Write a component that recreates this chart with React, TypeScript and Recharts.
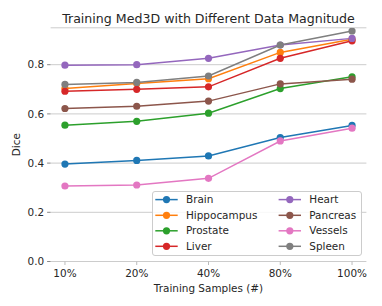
import React from 'react';
import { LineChart, Line, XAxis, YAxis, CartesianGrid, Legend } from 'recharts';

const xLabels = ['10%', '20%', '40%', '80%', '100%'];
const seriesNames = ['Brain', 'Hippocampus', 'Prostate', 'Liver', 'Heart', 'Pancreas', 'Vessels', 'Spleen'];
const colors = ['#1f77b4', '#ff7f0e', '#2ca02c', '#d62728', '#9467bd', '#8c564b', '#e377c2', '#7f7f7f'];

const brain = [0.396, 0.411, 0.429, 0.504, 0.553];
const hippocampus = [0.703, 0.724, 0.743, 0.85, 0.903];
const prostate = [0.554, 0.57, 0.603, 0.703, 0.751];
const liver = [0.692, 0.70, 0.71, 0.826, 0.897];
const heart = [0.798, 0.80, 0.826, 0.88, 0.907];
const pancreas = [0.622, 0.631, 0.652, 0.722, 0.741];
const vessels = [0.307, 0.311, 0.338, 0.49, 0.542];
const spleen = [0.72, 0.728, 0.754, 0.88, 0.937];

const yTicks = [0, 0.2, 0.4, 0.6, 0.8];

const seriesValues = [brain, hippocampus, prostate, liver, heart, pancreas, vessels, spleen];

const data = xLabels.map((lab, i) => {
  const row: Record<string, number | string> = { x: i, label: lab };
  seriesNames.forEach((n, k) => {
    row[n] = seriesValues[k][i];
  });
  return row;
});

const FONT = '"DejaVu Sans", sans-serif';
const TEXT = '#262626';
const FS = 10.45;

const LegendBox = () => {
  const rowsY = [8.6, 24.3, 39.8, 55.3];
  return (
    <div
      style={{
        width: 210,
        height: 65,
        boxSizing: 'border-box',
        border: '1px solid #cccccc',
        borderRadius: 3,
        background: 'rgba(255,255,255,0.85)',
        position: 'relative',
      }}
    >
      <svg width={210} height={65} style={{ position: 'absolute', left: -1, top: -1 }}>
        {seriesNames.map((n, k) => {
          const col = k < 4 ? 0 : 1;
          const row = k % 4;
          const x0 = col === 0 ? 3.3 : 126.6;
          const y = rowsY[row];
          return (
            <g key={n}>
              <line x1={x0} x2={x0 + 22.4} y1={y} y2={y} stroke={colors[k]} strokeWidth={1.5} />
              <circle cx={x0 + 11.2} cy={y} r={3.6} fill={colors[k]} />
              <text x={x0 + 30.7} y={y} dy="0.35em" fontSize={FS} fontFamily={FONT} fill={TEXT}>
                {n}
              </text>
            </g>
          );
        })}
      </svg>
    </div>
  );
};

export default function App() {
  return (
    <div style={{ position: 'absolute', left: 0, top: 0, width: 382, height: 306, background: '#fff' }}>
      <LineChart
        width={382}
        height={306}
        data={data}
        margin={{ top: 27.8, right: 15.6, bottom: 0, left: 0 }}
      >
        <CartesianGrid vertical={false} stroke="#cccccc" strokeWidth={1} />
        <XAxis
          dataKey="x"
          type="number"
          domain={[-0.2, 4.2]}
          ticks={[0, 1, 2, 3, 4]}
          allowDataOverflow
          tickFormatter={(v: number) => xLabels[v]}
          axisLine={false}
          tickLine={{ stroke: '#bbbbbb' }}
          tickSize={3.5}
          tickMargin={5}
          height={44.5}
          tick={{ fontSize: FS, fontFamily: FONT, fill: TEXT }}
          label={{
            value: 'Training Samples (#)',
            position: 'insideBottom',
            offset: 14,
            style: { fontSize: FS, fontFamily: FONT, fill: TEXT },
          }}
        />
        <YAxis
          type="number"
          domain={[0, 0.95]}
          ticks={yTicks}
          allowDataOverflow
          tickFormatter={(v: number) => v.toFixed(1)}
          axisLine={false}
          tickLine={{ stroke: '#888888' }}
          tickSize={3.5}
          tickMargin={3}
          width={50.6}
          tick={{ fontSize: FS, fontFamily: FONT, fill: TEXT }}
          label={{
            value: 'Dice',
            angle: -90,
            position: 'insideLeft',
            offset: 16,
            style: { fontSize: FS, fontFamily: FONT, fill: TEXT, textAnchor: 'middle' },
          }}
        />
        {seriesNames.map((n, k) => (
          <Line
            key={n}
            type="linear"
            dataKey={n}
            stroke={colors[k]}
            strokeWidth={1.5}
            dot={{ r: 3.6, fill: colors[k], stroke: colors[k], strokeWidth: 0 }}
            activeDot={false}
            isAnimationActive={false}
          />
        ))}
        <Legend
          layout="vertical"
          align="center"
          verticalAlign="middle"
          content={() => <LegendBox />}
          wrapperStyle={{ position: 'absolute', left: 151.7, top: 190.7, width: 210, height: 65 }}
        />
      </LineChart>
      <svg
        width={382}
        height={30}
        style={{ position: 'absolute', left: 0, top: 0, pointerEvents: 'none' }}
      >
        <text x={208.5} y={23} textAnchor="middle" fontSize={12.6} fontFamily={FONT} fill={TEXT}>
          Training Med3D with Different Data Magnitude
        </text>
      </svg>
    </div>
  );
}
